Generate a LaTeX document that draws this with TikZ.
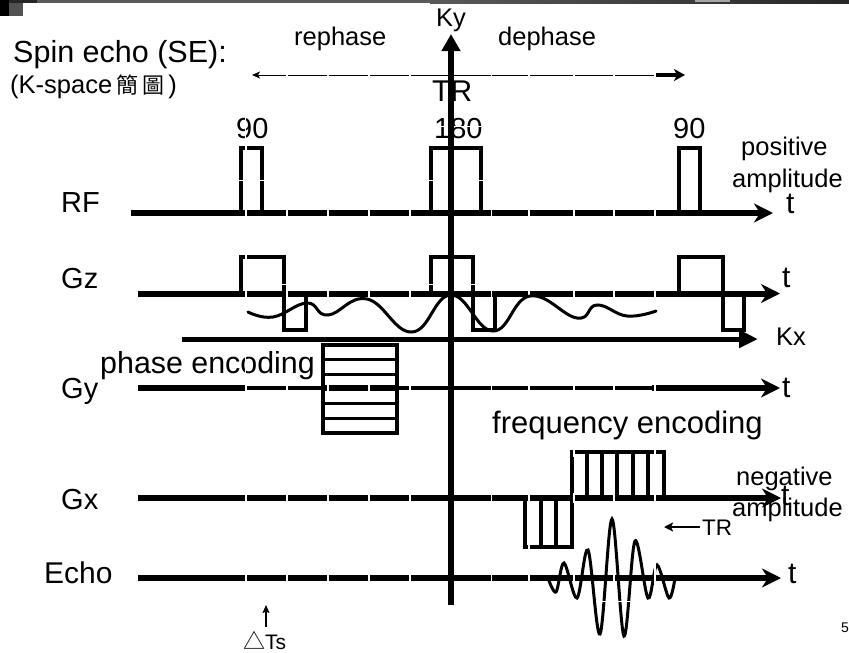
\documentclass[tikz,border=0pt]{standalone}
\usepackage{fontspec}
\setmainfont{Liberation Sans}
\newfontfamily\cjk{Noto Sans CJK TC}
\usetikzlibrary{arrows.meta}
\tikzset{
  lbl/.style={inner sep=0pt,anchor=base west,text=black},
  sA/.style={lbl,font=\fontsize{25.5}{28}\selectfont},
  sB/.style={lbl,font=\fontsize{30}{32}\selectfont},
  sC/.style={lbl,font=\fontsize{29}{32}\selectfont},
  axisline/.style={line width=6pt,-{Stealth[length=19pt,width=19pt,inset=6pt]}},
  plainaxis/.style={line width=6pt},
  pulse/.style={line width=4pt,miter limit=10},
  gap/.style={white,line width=1.3pt},
  wave/.style={line width=3pt,line cap=round},
  thinhor/.style={white,line width=.9pt}
}
\definecolor{barmid}{HTML}{5A5A5A}
\begin{document}
\begin{tikzpicture}[x=1pt,y=-1pt]
\useasboundingbox (0,0) rectangle (849,653);
\clip (0,0) rectangle (849,653);
% coordinates
\coordinate (rfA) at (131,213);   \coordinate (rfB) at (773,213);
\coordinate (gzA) at (138,293.5); \coordinate (gzB) at (780,293.5);
\coordinate (kxA) at (182,339);   \coordinate (kxB) at (758,339);
\coordinate (gyA) at (138,388);   \coordinate (gyM) at (246,388); \coordinate (gyN) at (652,388); \coordinate (gyB) at (780,388);
\coordinate (gxA) at (138,498);   \coordinate (gxB) at (781,498);
\coordinate (ecA) at (138,578);   \coordinate (ecB) at (781,578);
\coordinate (kyA) at (451,605);   \coordinate (kyB) at (451,34);
\coordinate (phL) at (252,75);    \coordinate (phM) at (655,75); \coordinate (phR) at (685,75);
\coordinate (tsA) at (266,627);   \coordinate (tsB) at (266,605);
\coordinate (trA) at (700,527);   \coordinate (trB) at (664,527);
% top bar
\fill[barmid] (0,0) rectangle (430,3);
\shade[left color=barmid,right color=black!85] (430,0) rectangle (849,3);
\fill[black!85] (0,0) rectangle (37,3);
\fill[black] (0,0) rectangle (9,16);
\fill[black!68] (9,3) rectangle (23,16);
\fill[black!35] (695,0) rectangle (730,2);
% phase arrows
\draw[line width=1pt,-{Stealth[length=8pt,width=7pt,inset=2pt]}] (phM) -- (phL);
\draw[line width=3.5pt,-{Stealth[length=11pt,width=12pt,inset=3pt]}] (phM) -- (phR);
% axes
\draw[axisline] (rfA) -- (rfB);
\draw[axisline] (gzA) -- (gzB);
\draw[line width=5pt,-{Stealth[length=19pt,width=17pt,inset=0pt]}] (kxA) -- (kxB);
\draw[plainaxis] (gyA) -- (gyM);
\draw[line width=3.6pt] (gyM) -- (gyN);
\draw[axisline] (gyN) -- (gyB);
\draw[axisline] (gxA) -- (gxB);
\draw[axisline] (ecA) -- (ecB);
% RF pulses
\draw[pulse] (241,213) |- (262,147.5) -- (262,213);
\draw[pulse] (431,213) |- (481,147.5) -- (481,213);
\draw[pulse] (679,213) |- (700,147.5) -- (700,213);
% Gz pulses
\draw[pulse] (241,293.5) |- (284,257) -- (284,330) -| (306,293.5);
\draw[pulse] (431,293.5) |- (473,257) -- (473,330) -| (495,293.5);
\draw[pulse] (679,293.5) |- (723,257) -- (723,330) -| (744,293.5);
% Gy table
\draw[pulse] (323,345) rectangle (397,433);
\foreach \yy in {359,374,403,418} \draw[line width=3pt] (323,\yy) -- (397,\yy);
\draw[line width=5.5pt] (323,388) -- (397,388);
% Gx lobes
\draw[pulse] (525,498) |- (572,546.5) -- (572,498);
\foreach \xx in {541,556} \draw[line width=4pt] (\xx,498) -- (\xx,546);
\draw[pulse] (572,498) |- (664,452) -- (664,498);
\foreach \xx in {587,602,617,633,648} \draw[line width=4pt] (\xx,498) -- (\xx,452);
% dash gaps
\foreach \yy/\hh in {75/3,213/5,293.5/5,388/5,498/5,578/5}{
  \draw[white,line width=2.6pt] (246,\yy-\hh) -- (246,\yy+\hh);
  \foreach \xx in {287,328,369,410,491.5,529,574,614}
    \draw[gap] (\xx,\yy-\hh) -- (\xx,\yy+\hh);
  \draw[white,line width=2.6pt] (655,\yy-\hh) -- (655,\yy+\hh);
}
\draw[white,line width=2.6pt] (246,142) -- (246,153);
\draw[white,line width=2.6pt] (246,252) -- (246,262);
\draw[white,line width=2.6pt] (655,447) -- (655,457);
\draw[white,line width=2.2pt] (574,447) -- (574,457);
\draw[gap] (529,542) -- (529,551);
\draw[thinhor] (238,180) -- (265,180);
\draw[thinhor] (428,180) -- (484,180);
\draw[thinhor] (281,284.5) -- (287,284.5);
\draw[thinhor] (428,284.5) -- (434,284.5);
\draw[thinhor] (470,284.5) -- (476,284.5);
% k-space curve
\draw[wave] plot[smooth,tension=.75] coordinates {(248,312) (273,317) (307,303) (328,315) (367,299) (412,332) (451,295) (493,331) (530,296) (577,318) (597,305) (627,316) (656,311)};
% echo
\draw[wave] plot[smooth,tension=.55] coordinates {(548,578) (556,592) (564,563) (577,598) (588,550) (600,634) (612,519) (624,636) (635,541) (648,598) (657,565) (669,598) (675,578)};
\draw[white,line width=2pt] (655,555) -- (655,600);
\draw[thinhor] (596,601) -- (630,601);
% small arrows
\draw[line width=1.5pt,-{Stealth[length=8pt,width=7pt,inset=1.5pt]}] (tsA) -- (tsB);
\draw[line width=2.2pt,-{Stealth[length=9pt,width=9pt,inset=2pt]}] (trA) -- (trB);
% texts
\node[lbl,font=\fontsize{30.5}{32}\selectfont] (spin) at (13,62) {Spin echo (SE):};
\node[sA] (ksp) at (10,93) {(K-space\,{\cjk\fontsize{22}{24}\selectfont 簡\,圖}\,)};
\node[sA] (reph) at (294,45) {rephase};
\node[sA] (deph) at (498,45) {dephase};
\node[sA] (ky) at (436,27) {Ky};
\node[sB] (trtop) at (432,101) {TR};
\node[sC] (n90a) at (236,138) {90};
\node[sC] (n180) at (434,138) {180};
\node[sC] (n90b) at (673,138) {90};
\node[sA] (pos) at (741,155) {positive};
\node[sA] (ampA) at (732,187) {amplitude};
\node[sB] (tA) at (786,213) {t};
\node[sC] (rf) at (61,212) {RF};
\node[sC] (gz) at (61,288) {Gz};
\node[sC] (gy) at (61,398) {Gy};
\node[sC] (gx) at (61,509) {Gx};
\node[sB] (echo) at (44,583) {Echo};
\node[sB] (tB) at (782,287) {t};
\node[sA] (kx) at (776,345) {Kx};
\node[sB] (tC) at (782,397) {t};
\node[lbl,font=\fontsize{30.4}{32}\selectfont] (phenc) at (100,373) {phase encoding};
\node[lbl,font=\fontsize{31}{32}\selectfont] (frenc) at (492,433) {frequency encoding};
\node[sA] (neg) at (736,485) {negative};
\node[sA] (ampB) at (732,516) {amplitude};
\node[sB] (tD) at (781,505) {t};
\node[lbl,font=\fontsize{22.5}{24}\selectfont] (trlow) at (702,535) {TR};
\node[sB] (tE) at (788,583) {t};
\node[lbl,font=\fontsize{14}{16}\selectfont] (pg) at (841,632) {5};
\node[lbl,font=\fontsize{21}{24}\selectfont] (dts) at (243,649) {{\cjk\fontsize{22}{24}\selectfont △}Ts};
% gap through text and Ky axis
\draw[white,line width=1.3pt] (245.5,112) -- (245.5,140);
\draw[white,line width=1.3pt] (245.5,350) -- (245.5,378);
\draw[thinhor] (434,126) -- (484,126);
\draw[line width=5.5pt,-{Stealth[length=17pt,width=18pt,inset=0pt]}] (kyA) -- (kyB);
\end{tikzpicture}
\end{document}
